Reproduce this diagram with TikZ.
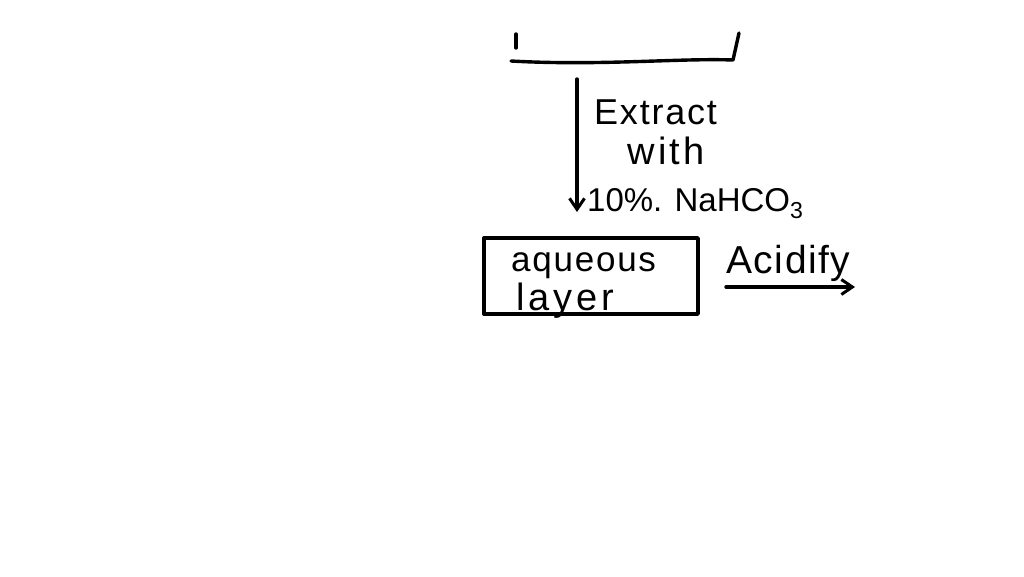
\documentclass[tikz,border=0pt]{standalone}
\usepackage{fontspec}
\setmainfont{Liberation Sans}
\usetikzlibrary{arrows.meta}
\newcommand{\fs}[2]{\fontsize{#1}{#1}\selectfont\addfontfeatures{LetterSpace=#2}}
\begin{document}
\begin{tikzpicture}[x=1pt,y=-1pt,
  ink/.style={line width=3.4pt,line cap=round,line join=round},
  arr/.style={ink,-{Straight Barb[length=11pt,width=15pt,line width=3pt]}},
  lbl/.style={inner sep=0pt,anchor=base west},
  boxnode/.style={ink,draw,minimum width=214pt,minimum height=76pt,inner sep=0pt}]
\useasboundingbox (0,0) rectangle (1024,576);
% top partial box
\coordinate (tl1) at (516,34);
\coordinate (tl2) at (516,48);
\coordinate (bl) at (511,61);
\coordinate (br) at (733,60);
\coordinate (tr) at (739,33);
\draw[ink] (tl1) -- (tl2);
\draw[ink] (bl) .. controls (600,66) and (680,58) .. (br) -- (tr);
% extraction arrow
\coordinate (e1) at (577,79);
\coordinate (e2) at (577,212);
\draw[arr] (e1) -- (e2);
\node[lbl,font=\fs{36}{5}] (extract) at (594,124) {Extract};
\node[lbl,font=\fs{38}{9}] (with) at (627,164) {with};
\node[lbl,font=\fs{33}{0}] (reag) at (587,211) {10\%. NaHCO\textsubscript{3}};
% aqueous layer box
\node[boxnode] (aq) at (591,276) {};
\node[lbl,font=\fs{35}{5}] (aqt) at (511,271) {aqueous};
\node[lbl,font=\fs{38}{10}] (layt) at (516,310) {layer};
% acidify arrow
\coordinate (c1) at (726,287);
\coordinate (c2) at (855,287);
\draw[arr] (c1) -- (c2);
\node[lbl,font=\fs{39}{4}] (acid) at (726,273) {Acidify};
\end{tikzpicture}
\end{document}
